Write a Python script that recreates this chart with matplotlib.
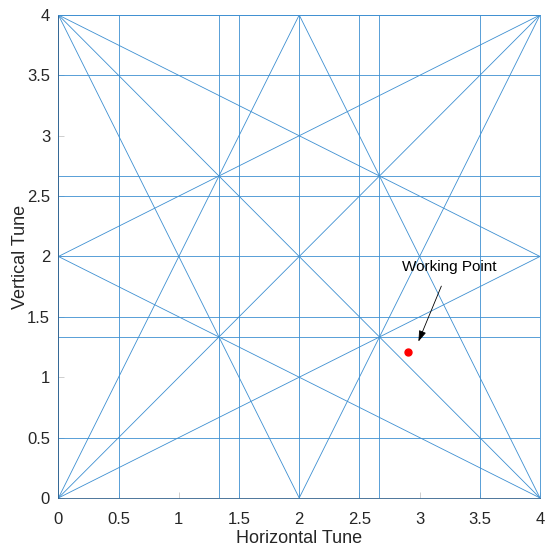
import matplotlib
matplotlib.use('Agg')
import matplotlib.pyplot as plt
import numpy as np

plt.rcParams['font.family'] = ['Liberation Sans', 'DejaVu Sans']

# resonance lines of the tune diagram
vert_lines = [0, 0.5, 4/3, 1.5, 2, 2.5, 8/3, 3.5, 4]
horiz_lines = [0, 0.5, 4/3, 1.5, 2, 2.5, 8/3, 3.5, 4]
# sloped lines as (x0, y0, x1, y1)
diag_lines = [
    (0, 0, 4, 4), (0, 4, 4, 0),
    (0, 0, 2, 4), (2, 4, 4, 0),
    (0, 4, 2, 0), (2, 0, 4, 4),
    (0, 0, 4, 2), (0, 4, 4, 2),
    (0, 2, 4, 4), (0, 2, 4, 0),
]
work_x, work_y = 2.9, 1.21
label_xy = (3.245, 1.91)

ticks = np.arange(0, 4.01, 0.5)
tick_labels = ['0', '0.5', '1', '1.5', '2', '2.5', '3', '3.5', '4']

blue = '#3d8fd1'

fig = plt.figure(figsize=(5.46, 5.46), dpi=100)
ax = fig.add_axes([0.107, 0.088, 0.882, 0.8845])

for x in vert_lines:
    ax.plot([x, x], [0, 4], color=blue, lw=0.6)
for y in horiz_lines:
    ax.plot([0, 4], [y, y], color=blue, lw=0.6)
for x0, y0, x1, y1 in diag_lines:
    ax.plot([x0, x1], [y0, y1], color=blue, lw=0.6)

ax.plot(work_x, work_y, 'o', color='red', ms=5)
ax.annotate('Working Point', xy=(2.99, 1.295), xytext=label_xy,
            ha='center', va='center', fontsize=11,
            arrowprops=dict(arrowstyle='-|>,head_length=0.6,head_width=0.2',
                            color='black', lw=0.6, shrinkA=7, shrinkB=0))

ax.set_xlim(0, 4)
ax.set_ylim(0, 4)
ax.set_xticks(ticks)
ax.set_xticklabels(tick_labels)
ax.set_yticks(ticks)
ax.set_yticklabels(tick_labels)
ax.tick_params(direction='in', length=4, width=0.5, color='#bbbbbb',
               labelsize=12, labelcolor='#262626', top=False, right=False)
ax.tick_params(axis='x', pad=10)
ax.tick_params(axis='y', pad=6)
for s in ax.spines.values():
    s.set_color(blue)
    s.set_linewidth(0.6)
ax.spines['bottom'].set_color('#2f5f8a')
ax.spines['left'].set_color('#2f5f8a')
ax.set_xlabel('Horizontal Tune', fontsize=13, color='#262626', labelpad=2.5)
ax.set_ylabel('Vertical Tune', fontsize=13, color='#262626', labelpad=-1.5)

fig.savefig('out.png', dpi=100)
